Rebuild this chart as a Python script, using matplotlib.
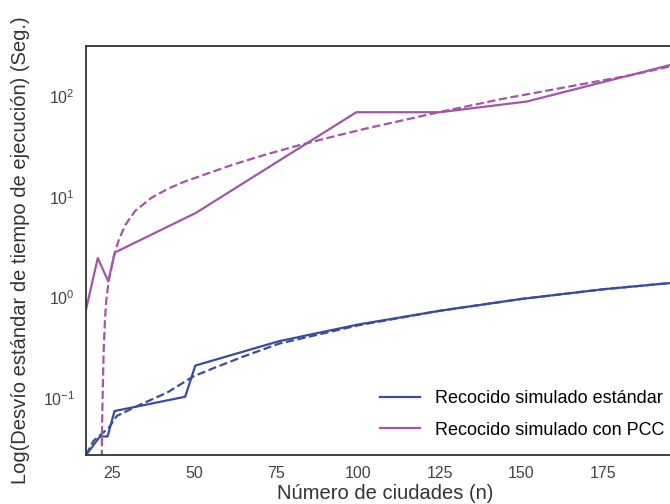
import numpy as np
import matplotlib
matplotlib.use("Agg")
import matplotlib.pyplot as plt

# datos
n_est = [17, 21.3, 23.6, 25.7, 47.3, 50.4, 76, 100, 125, 150, 175, 200]
t_est = [0.0275, 0.042, 0.042, 0.075, 0.104, 0.212, 0.37, 0.54, 0.74, 0.97, 1.21, 1.44]

n_est_fit = [17, 19.3, 23.9, 26.4, 33.6, 41.7, 49.9, 56, 65, 76, 100, 125, 150, 175, 200]
t_est_fit = [0.0275, 0.038, 0.051, 0.067, 0.087, 0.114, 0.166, 0.20, 0.26, 0.35, 0.53, 0.74, 0.97, 1.21, 1.44]

n_pcc = [17, 20.6, 23.8, 25.8, 48.4, 50.5, 99.6, 125.1, 151.6, 200]
t_pcc = [0.76, 2.47, 1.45, 2.8, 6.4, 6.9, 69, 69, 88, 221]

n_pcc_fit = [21.7, 22.0, 22.4, 22.8, 23.2, 24, 25.5, 27, 29, 32, 37, 42, 47,
             55, 62, 72, 82, 94, 103, 125, 144, 164, 184, 200]
t_pcc_fit = [0.015, 0.08, 0.3, 0.6, 0.95, 1.51, 2.57, 3.72, 5.25, 7.24, 9.77, 12.0, 14.1,
             17.4, 20.9, 26.3, 32.4, 40.7, 47.9, 69.2, 93.3, 123, 162, 212]

azul = "#3b4c9e"
violeta = "#a455a8"

plt.rcParams['font.family'] = ['Liberation Sans', 'DejaVu Sans']
plt.rcParams['mathtext.fontset'] = 'custom'
plt.rcParams['mathtext.rm'] = 'Liberation Sans'

fig = plt.figure(figsize=(6.7, 5.04), dpi=100)
ax = fig.add_axes([86 / 670, 49 / 504, 599 / 670, 409 / 504])

ax.plot(n_est, t_est, color=azul, lw=1.6, label="Recocido simulado estándar")
ax.plot(n_pcc, t_pcc, color=violeta, lw=1.6, label="Recocido simulado con PCC")
ax.plot(n_est_fit, t_est_fit, color=azul, lw=1.6, ls="--")
ax.plot(n_pcc_fit, t_pcc_fit, color=violeta, lw=1.6, ls="--")

ax.set_yscale("log")
ax.set_xlim(17, 200)
ax.set_ylim(0.0275, 313)
ax.set_xticks([25, 50, 75, 100, 125, 150, 175])
ax.minorticks_off()
ax.tick_params(length=0, labelsize=11.5, labelcolor="#444444", pad=8)

for s in ax.spines.values():
    s.set_color("#333333")
    s.set_linewidth(1.3)

ax.set_xlabel("Número de ciudades (n)", fontsize=14.5, color="#333333", labelpad=2)
ax.set_ylabel("Log(Desvío estándar de tiempo de ejecución) (Seg.)", fontsize=14.5,
              color="#333333", labelpad=9)

ax.legend(loc="lower right", frameon=False, fontsize=13, labelspacing=0.8,
          handlelength=2.2, bbox_to_anchor=(0.992, 0.0))

fig.savefig("out.png", dpi=100)
